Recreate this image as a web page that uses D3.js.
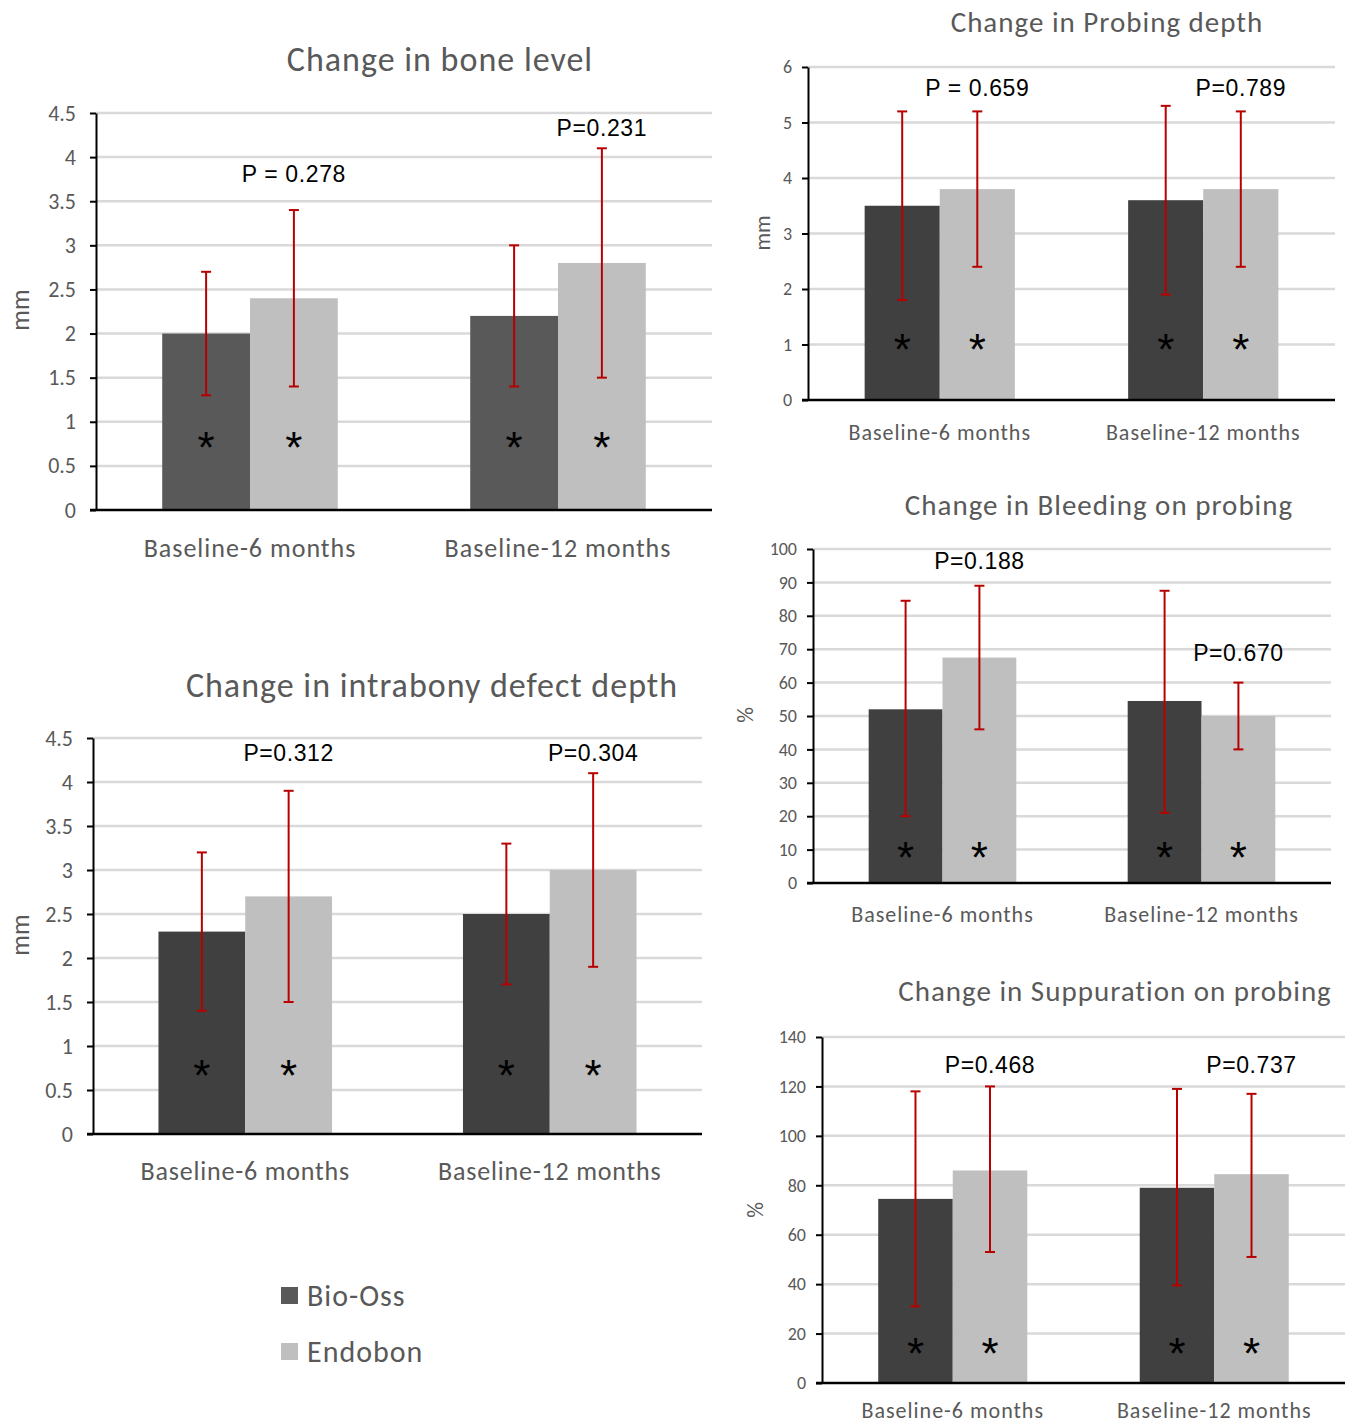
<!DOCTYPE html>
<html>
<head>
<meta charset="utf-8">
<script src="https://cdn.jsdelivr.net/npm/d3@7"></script>
<style>
  body { margin: 0; background: #fff; }
  svg { display: block; }
  .tick text { fill: #595959; }
</style>
</head>
<body>
<svg class="svgChart"></svg>
<script>
// categories and series shared by all five panels
var categories = ["Baseline-6 months", "Baseline-12 months"];
var seriesNames = ["Bio-Oss", "Endobon"];

// Change in bone level (mm)
var boneBioOss = [2.0, 2.2];
var boneEndobon = [2.4, 2.8];
var boneBioOssErr = [[1.3, 2.7], [1.4, 3.0]];
var boneEndobonErr = [[1.4, 3.4], [1.5, 4.1]];
var boneP = ["P = 0.278", "P=0.231"];
var boneTicks = [0, 0.5, 1, 1.5, 2, 2.5, 3, 3.5, 4, 4.5];

// Change in intrabony defect depth (mm)
var defectBioOss = [2.3, 2.5];
var defectEndobon = [2.7, 3.0];
var defectBioOssErr = [[1.4, 3.2], [1.7, 3.3]];
var defectEndobonErr = [[1.5, 3.9], [1.9, 4.1]];
var defectP = ["P=0.312", "P=0.304"];
var defectTicks = [0, 0.5, 1, 1.5, 2, 2.5, 3, 3.5, 4, 4.5];

// Change in Probing depth (mm)
var probingBioOss = [3.5, 3.6];
var probingEndobon = [3.8, 3.8];
var probingBioOssErr = [[1.8, 5.2], [1.9, 5.3]];
var probingEndobonErr = [[2.4, 5.2], [2.4, 5.2]];
var probingP = ["P = 0.659", "P=0.789"];
var probingTicks = [0, 1, 2, 3, 4, 5, 6];

// Change in Bleeding on probing (%)
var bleedingBioOss = [52, 54.5];
var bleedingEndobon = [67.5, 50];
var bleedingBioOssErr = [[20, 84.5], [21, 87.5]];
var bleedingEndobonErr = [[46, 89], [40, 60]];
var bleedingP = ["P=0.188", "P=0.670"];
var bleedingTicks = [0, 10, 20, 30, 40, 50, 60, 70, 80, 90, 100];

// Change in Suppuration on probing (%)
var suppBioOss = [74.5, 79];
var suppEndobon = [86, 84.5];
var suppBioOssErr = [[31, 118], [39.5, 119]];
var suppEndobonErr = [[53, 120], [51, 117]];
var suppP = ["P=0.468", "P=0.737"];
var suppTicks = [0, 20, 40, 60, 80, 100, 120, 140];

var labelFont = "Carlito, Calibri, Lato, sans-serif";
var pFont = "'Liberation Sans', Arial, sans-serif";
var textGrey = '#595959';
var errColor = '#b80000';

var svg = d3.select('.svgChart')
    .attr('width', 1352)
    .attr('height', 1424);

function buildRows(bio, endo, bioErr, endoErr){
  var rows = [];
  categories.forEach(function(c, i){
    rows.push({cat: c, series: seriesNames[0], value: bio[i], lo: bioErr[i][0], hi: bioErr[i][1]});
    rows.push({cat: c, series: seriesNames[1], value: endo[i], lo: endoErr[i][0], hi: endoErr[i][1]});
  });
  return rows;
}

function drawChart(cfg){
  var width = cfg.right - cfg.left;
  var height = cfg.bottom - cfg.top;
  var rows = buildRows(cfg.bio, cfg.endo, cfg.bioErr, cfg.endoErr);
  var ticks = cfg.ticks;

  var g = svg.append('g')
      .attr('transform', 'translate(' + cfg.left + ',' + cfg.top + ')');

  var x0 = d3.scaleBand()
    .domain(categories)
    .range([0, width])
    .paddingInner(0.43)
    .paddingOuter(0.215);

  var x1 = d3.scaleBand()
    .domain(seriesNames)
    .range([0, x0.bandwidth()]);

  var yScale = d3.scaleLinear()
    .domain([0, ticks[ticks.length - 1]])
    .range([height, 0]);

  var colorScale = d3.scaleOrdinal()
    .domain(seriesNames)
    .range([cfg.darkColor, '#bfbfbf']);

  // gridlines
  g.append('g')
    .selectAll('line')
    .data(ticks.slice(1))
    .enter()
    .append('line')
      .attr('x1', 0)
      .attr('x2', width)
      .attr('y1', d => yScale(d))
      .attr('y2', d => yScale(d))
      .attr('stroke', '#d9d9d9')
      .attr('stroke-width', 2.5);

  // bars
  g.append('g')
    .selectAll('rect')
    .data(rows)
    .enter()
    .append('rect')
      .attr('x', d => x0(d.cat) + x1(d.series))
      .attr('y', d => yScale(d.value))
      .attr('width', x1.bandwidth())
      .attr('height', d => height - yScale(d.value))
      .attr('fill', d => colorScale(d.series));

  // error bars
  var err = g.append('g')
    .attr('stroke', errColor)
    .attr('stroke-width', 2)
    .selectAll('g')
    .data(rows)
    .enter()
    .append('g')
      .attr('transform', d => 'translate(' + (x0(d.cat) + x1(d.series) + x1.bandwidth() / 2) + ',0)');

  err.append('line')
      .attr('y1', d => yScale(d.lo))
      .attr('y2', d => yScale(d.hi));
  err.append('line')
      .attr('x1', -5).attr('x2', 5)
      .attr('y1', d => yScale(d.hi))
      .attr('y2', d => yScale(d.hi));
  err.append('line')
      .attr('x1', -5).attr('x2', 5)
      .attr('y1', d => yScale(d.lo))
      .attr('y2', d => yScale(d.lo));

  // significance stars
  g.append('g')
    .selectAll('text')
    .data(rows)
    .enter()
    .append('text')
      .attr('x', d => x0(d.cat) + x1(d.series) + x1.bandwidth() / 2)
      .attr('y', yScale(cfg.starY) + cfg.starSize * 0.52)
      .attr('text-anchor', 'middle')
      .attr('font-family', pFont)
      .attr('font-size', cfg.starSize)
      .attr('fill', '#000')
      .text('*');

  // p values above the Endobon bar of each group
  g.append('g')
    .selectAll('text')
    .data(categories)
    .enter()
    .append('text')
      .attr('x', d => x0(d) + x1(seriesNames[1]) + x1.bandwidth() / 2)
      .attr('y', (d, i) => yScale(cfg.pY[i]))
      .attr('dy', '0.36em')
      .attr('text-anchor', 'middle')
      .attr('font-family', pFont)
      .attr('font-size', cfg.pSize)
      .attr('letter-spacing', 0.6)
      .attr('fill', '#000')
      .text((d, i) => cfg.pText[i]);

  // y axis
  var yAxis = d3.axisLeft(yScale)
    .tickValues(ticks)
    .tickFormat(d => d)
    .tickSize(6)
    .tickSizeOuter(0)
    .tickPadding(cfg.tickPad);

  var ya = g.append('g')
      .attr('class', 'yAxis')
      .call(yAxis);
  ya.select('.domain').attr('stroke', '#000').attr('stroke-width', 2);
  ya.selectAll('.tick line').attr('stroke', '#000').attr('stroke-width', 2);
  ya.selectAll('.tick text')
      .attr('font-family', labelFont)
      .attr('font-size', cfg.tickSize);

  // x axis line (no ticks)
  g.append('line')
      .attr('x1', -6)
      .attr('x2', width)
      .attr('y1', height)
      .attr('y2', height)
      .attr('stroke', '#000')
      .attr('stroke-width', 2.5);

  // category labels
  g.append('g')
    .selectAll('text')
    .data(categories)
    .enter()
    .append('text')
      .attr('x', d => x0(d) + x0.bandwidth() / 2)
      .attr('y', height + cfg.catGap)
      .attr('dy', '0.35em')
      .attr('text-anchor', 'middle')
      .attr('font-family', labelFont)
      .attr('font-size', cfg.catSize)
      .attr('letter-spacing', cfg.catSpacing)
      .attr('fill', textGrey)
      .text(d => d);

  // title
  svg.append('text')
      .attr('x', cfg.titleX)
      .attr('y', cfg.titleY)
      .attr('dy', '0.35em')
      .attr('text-anchor', 'middle')
      .attr('font-family', labelFont)
      .attr('font-size', cfg.titleSize)
      .attr('letter-spacing', 1)
      .attr('fill', textGrey)
      .text(cfg.title);

  // y label
  svg.append('text')
      .attr('transform', 'translate(' + cfg.ylabelX + ',' + cfg.ylabelY + ') rotate(-90)')
      .attr('dy', '0.35em')
      .attr('text-anchor', 'middle')
      .attr('font-family', labelFont)
      .attr('font-size', cfg.ylabelSize)
      .attr('fill', textGrey)
      .text(cfg.ylabel);
}

// left column
drawChart({
  title: 'Change in bone level', ylabel: 'mm',
  bio: boneBioOss, endo: boneEndobon, bioErr: boneBioOssErr, endoErr: boneEndobonErr,
  pText: boneP, pY: [3.81, 4.33], starY: 0.79, ticks: boneTicks,
  left: 96, right: 712, top: 113, bottom: 510, darkColor: '#595959',
  titleX: 440, titleY: 59, titleSize: 34, catGap: 38, catSize: 26, catSpacing: 1,
  tickSize: 22, tickPad: 14, ylabelX: 20, ylabelY: 310, ylabelSize: 26,
  pSize: 23, starSize: 44
});

drawChart({
  title: 'Change in intrabony defect depth', ylabel: 'mm',
  bio: defectBioOss, endo: defectEndobon, bioErr: defectBioOssErr, endoErr: defectEndobonErr,
  pText: defectP, pY: [4.33, 4.33], starY: 0.75, ticks: defectTicks,
  left: 93, right: 702, top: 738, bottom: 1134, darkColor: '#404040',
  titleX: 432, titleY: 685, titleSize: 34, catGap: 37, catSize: 26, catSpacing: 0.8,
  tickSize: 22, tickPad: 14, ylabelX: 20, ylabelY: 935, ylabelSize: 26,
  pSize: 23, starSize: 44
});

// right column
drawChart({
  title: 'Change in Probing depth', ylabel: 'mm',
  bio: probingBioOss, endo: probingEndobon, bioErr: probingBioOssErr, endoErr: probingEndobonErr,
  pText: probingP, pY: [5.62, 5.62], starY: 1.04, ticks: probingTicks,
  left: 808, right: 1335, top: 67, bottom: 400, darkColor: '#404040',
  titleX: 1107, titleY: 22, titleSize: 29, catGap: 32, catSize: 22, catSpacing: 1,
  tickSize: 18, tickPad: 10, ylabelX: 762, ylabelY: 233, ylabelSize: 22,
  pSize: 23, starSize: 44
});

drawChart({
  title: 'Change in Bleeding on probing', ylabel: '%',
  bio: bleedingBioOss, endo: bleedingEndobon, bioErr: bleedingBioOssErr, endoErr: bleedingEndobonErr,
  pText: bleedingP, pY: [96.4, 68.9], starY: 9.9, ticks: bleedingTicks,
  left: 813, right: 1331, top: 549, bottom: 883, darkColor: '#404040',
  titleX: 1099, titleY: 505, titleSize: 29, catGap: 31, catSize: 22, catSpacing: 1,
  tickSize: 18, tickPad: 10, ylabelX: 745, ylabelY: 715, ylabelSize: 22,
  pSize: 23, starSize: 44
});

drawChart({
  title: 'Change in Suppuration on probing', ylabel: '%',
  bio: suppBioOss, endo: suppEndobon, bioErr: suppBioOssErr, endoErr: suppEndobonErr,
  pText: suppP, pY: [128.7, 128.7], starY: 15, ticks: suppTicks,
  left: 822, right: 1345, top: 1037, bottom: 1383, darkColor: '#404040',
  titleX: 1115, titleY: 991, titleSize: 29, catGap: 27, catSize: 22, catSpacing: 1,
  tickSize: 18, tickPad: 10, ylabelX: 755, ylabelY: 1210, ylabelSize: 22,
  pSize: 23, starSize: 44
});

// legend
var legend = svg.append('g')
    .attr('transform', 'translate(281,1287)')
  .selectAll('g')
  .data(seriesNames)
  .enter()
  .append('g')
    .attr('transform', (d, i) => 'translate(0,' + i * 56 + ')');

legend.append('rect')
    .attr('width', 17)
    .attr('height', 17)
    .attr('fill', (d, i) => i === 0 ? '#595959' : '#bfbfbf');

legend.append('text')
    .attr('x', 26)
    .attr('y', 8.5)
    .attr('dy', '0.35em')
    .attr('font-family', labelFont)
    .attr('font-size', 30)
    .attr('letter-spacing', 1)
    .attr('fill', textGrey)
    .text(d => d);
</script>
</body>
</html>
